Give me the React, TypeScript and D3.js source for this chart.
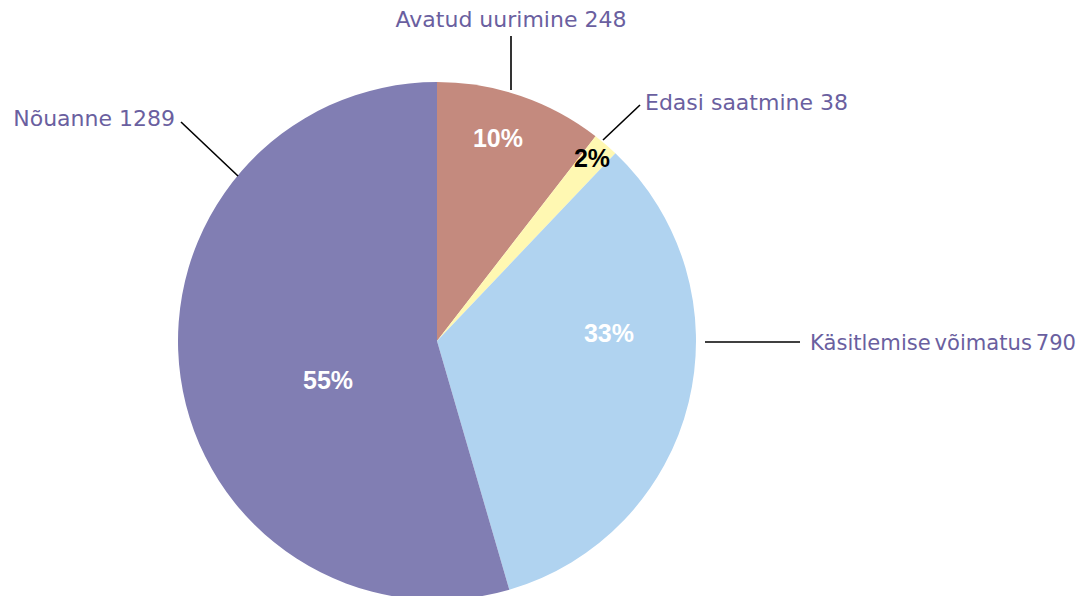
import { useEffect, useRef } from 'react';
import * as d3 from 'd3';

// Data
const categories = ['Avatud uurimine', 'Edasi saatmine', 'Käsitlemise võimatus', 'Nõuanne'];
const values = [248, 38, 790, 1289];
const colors = ['#C48A7E', '#FFF8B2', '#B0D3F0', '#817EB3'];

// label layout (relative to pie centre): leader line start/end, label text anchor
const leaders = [
  { x1: 74, y1: -251, x2: 74, y2: -305, tx: 74, ty: -314, anchor: 'middle', fit: 0 },
  { x1: 166, y1: -201, x2: 203, y2: -236, tx: 208, ty: -231, anchor: 'start', fit: 0 },
  { x1: 268, y1: 1, x2: 363, y2: 1, tx: 373, ty: 9, anchor: 'start', fit: 266 },
  { x1: -199, y1: -165, x2: -256, y2: -219, tx: -262, ty: -215, anchor: 'end', fit: 0 },
];
const pctPos = [
  { x: 61, y: -203, fill: '#fff' },
  { x: 155, y: -183, fill: '#000' },
  { x: 172, y: -8, fill: '#fff' },
  { x: -109, y: 39, fill: '#fff' },
];

const App = () => {
  const svgRef = useRef(null);

  useEffect(() => {
    const width = 1091;
    const height = 600;
    const cx = 437;
    const cy = 341;
    const radius = 259;

    const svg = d3.select(svgRef.current)
      .attr('width', width)
      .attr('height', height);
    svg.selectAll('*').remove();

    const g = svg.append('g').attr('transform', `translate(${cx},${cy})`);

    const total = d3.sum(values);
    const pie = d3.pie<number>().sort(null).value(d => d);
    const arc = d3.arc<d3.PieArcDatum<number>>().innerRadius(0).outerRadius(radius);
    const arcs = pie(values);

    g.selectAll('path.slice')
      .data(arcs)
      .enter()
      .append('path')
      .attr('class', 'slice')
      .attr('d', arc)
      .attr('fill', (d, i) => colors[i]);

    // percent labels
    g.selectAll('text.pct')
      .data(arcs)
      .enter()
      .append('text')
      .attr('class', 'pct')
      .attr('x', (d, i) => pctPos[i].x)
      .attr('y', (d, i) => pctPos[i].y)
      .attr('dy', '0.35em')
      .attr('text-anchor', 'middle')
      .attr('font-family', '"Liberation Sans", Arial, sans-serif')
      .attr('font-weight', 'bold')
      .attr('font-size', 25)
      .attr('fill', (d, i) => pctPos[i].fill)
      .text(d => `${Math.round((d.value / total) * 100)}%`);

    // leader lines
    g.selectAll('line.leader')
      .data(leaders)
      .enter()
      .append('line')
      .attr('class', 'leader')
      .attr('x1', d => d.x1)
      .attr('y1', d => d.y1)
      .attr('x2', d => d.x2)
      .attr('y2', d => d.y2)
      .attr('stroke', '#000')
      .attr('stroke-width', 1.6);

    // category labels
    const cat = g.selectAll('text.cat')
      .data(leaders)
      .enter()
      .append('text')
      .attr('class', 'cat')
      .attr('x', d => d.tx)
      .attr('y', d => d.ty)
      .attr('text-anchor', d => d.anchor)
      .attr('font-family', '"DejaVu Sans", sans-serif')
      .attr('font-size', 22)
      .attr('fill', '#6A5FA0')
      .text((d, i) => `${categories[i]} ${values[i]}`);

    cat.filter(d => d.fit > 0)
      .attr('word-spacing', -3)
      .attr('textLength', d => d.fit)
      .attr('lengthAdjust', 'spacingAndGlyphs');
  }, []);

  return (
    <div style={{ margin: -8 }}>
      <svg ref={svgRef}></svg>
    </div>
  );
};

export default App;
